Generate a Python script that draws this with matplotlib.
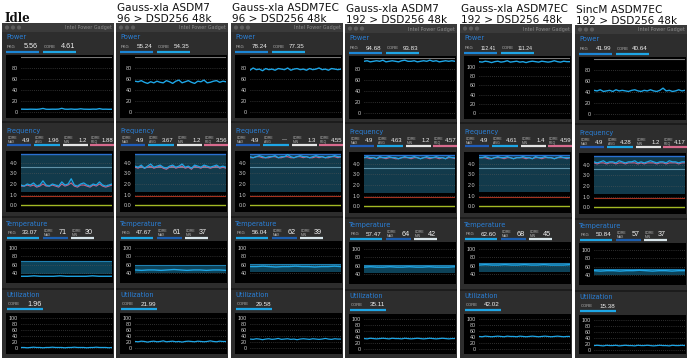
import matplotlib
matplotlib.use("Agg")
import matplotlib.pyplot as plt
from matplotlib.patches import Rectangle, Circle

W, H = 690, 358

# titles of the six screenshots
titles = ["Idle",
          "Gauss-xla ASDM7\n96 > DSD256 48k",
          "Gauss-xla ASDM7EC\n96 > DSD256 48k",
          "Gauss-xla ASDM7\n192 > DSD256 48k",
          "Gauss-xla ASDM7EC\n192 > DSD256 48k",
          "SincM ASDM7EC\n192 > DSD256 48k"]

# header readouts
pkg_power = ["5.56", "55.24", "78.24", "94.68", "112.41", "41.99"]
core_power = ["4.61", "54.35", "77.35", "93.83", "111.24", "40.64"]
freq_max = ["4.9", "4.9", "4.9", "4.9", "4.9", "4.9"]
freq_avg = ["1.96", "3.67", "---", "4.63", "4.61", "4.28"]
freq_min = ["1.2", "1.2", "1.3", "1.2", "1.4", "1.2"]
freq_req = ["1.88", "3.56", "4.55", "4.57", "4.59", "4.17"]
temp_pkg = ["33.07", "47.67", "56.04", "57.47", "62.60", "50.84"]
temp_max = ["71", "61", "62", "64", "68", "57"]
temp_min = ["30", "37", "39", "42", "45", "37"]
util_core = ["1.96", "21.99", "29.58", "35.11", "42.02", "15.38"]

# power traces (W)
power_idle = [5.2, 5.0, 4.9, 5.1, 5.0, 4.8, 5.3, 6.4, 5.0, 4.9, 5.1, 5.0, 5.2, 6.6, 5.1,
              5.0, 5.4, 4.9, 5.0, 5.8, 5.1, 5.0, 4.9, 5.2, 5.0, 6.1, 5.0, 5.1, 4.9, 5.0]
power_g7_96 = [56, 55, 57, 54, 52, 55, 53, 56, 54, 53, 57, 55, 52, 56, 58,
               53, 55, 57, 54, 52, 56, 55, 58, 53, 54, 56, 57, 54, 56, 55]
power_g7ec_96 = [76, 80, 77, 78, 75, 79, 77, 78, 76, 79, 78, 77, 80, 76, 78,
                 79, 77, 78, 76, 79, 77, 78, 80, 77, 78, 76, 79, 78, 77, 78]
power_g7_192 = [94, 95, 93, 94, 95, 94, 96, 93, 94, 95, 94, 93, 95, 96, 94,
                94, 95, 93, 94, 95, 94, 96, 94, 95, 93, 94, 95, 94, 95, 94]
power_g7ec_192 = [112, 111, 113, 112, 110, 112, 113, 111, 112, 114, 111, 112, 113, 111, 112,
                  110, 112, 113, 112, 111, 113, 112, 111, 112, 114, 112, 111, 113, 112, 112]
power_sinc = [43, 42, 44, 41, 42, 43, 41, 44, 42, 43, 42, 41, 43, 44, 42,
              41, 43, 42, 44, 42, 41, 43, 47, 42, 43, 41, 42, 44, 42, 43]
power_top = [100, 100, 100, 100, 120, 100]

# core average / requested frequency (GHz)
fa_idle = [1.9, 1.8, 2.0, 1.9, 2.1, 1.8, 1.9, 2.3, 1.9, 1.8, 2.0, 1.9, 1.8, 2.2, 1.9,
           2.0, 2.5, 1.9, 1.8, 2.0, 2.1, 1.9, 1.8, 2.0, 1.9, 2.2, 1.9, 1.8, 1.9, 2.0]
fr_idle = [1.8, 1.8, 1.9, 1.8, 1.9, 1.7, 1.8, 2.0, 1.8, 1.8, 1.9, 1.8, 1.7, 2.0, 1.8,
           1.9, 2.1, 1.8, 1.7, 1.9, 1.9, 1.8, 1.7, 1.9, 1.8, 2.0, 1.8, 1.7, 1.8, 1.9]
fa_g7_96 = [3.7, 3.6, 3.8, 3.5, 3.7, 3.9, 3.6, 3.7, 3.8, 3.6, 3.5, 3.7, 3.8, 3.6, 3.7,
            3.9, 3.6, 3.7, 3.5, 3.8, 3.7, 3.6, 3.8, 3.7, 3.6, 3.7, 3.8, 3.6, 3.7, 3.6]
fr_g7_96 = [3.6, 3.5, 3.7, 3.5, 3.6, 3.7, 3.5, 3.6, 3.7, 3.5, 3.4, 3.6, 3.7, 3.5, 3.6,
            3.7, 3.5, 3.6, 3.4, 3.7, 3.6, 3.5, 3.7, 3.6, 3.5, 3.6, 3.7, 3.5, 3.6, 3.5]
fa_g7ec_96 = [4.6, 4.5, 4.6, 4.7, 4.6, 4.5, 4.6, 4.6, 4.7, 4.5, 4.6, 4.6, 4.8, 4.6, 4.5,
              4.6, 4.7, 4.6, 4.6, 4.5, 4.6, 4.7, 4.6, 4.6, 4.5, 4.6, 4.6, 4.7, 4.6, 4.6]
fr_g7ec_96 = [4.5, 4.5, 4.6, 4.6, 4.5, 4.5, 4.5, 4.6, 4.6, 4.5, 4.5, 4.6, 4.6, 4.5, 4.5,
              4.6, 4.6, 4.5, 4.6, 4.5, 4.5, 4.6, 4.5, 4.6, 4.5, 4.5, 4.6, 4.6, 4.5, 4.6]
fa_g7_192 = [4.6, 4.7, 4.6, 4.6, 4.5, 4.7, 4.6, 4.6, 4.7, 4.6, 4.6, 4.5, 4.6, 4.7, 4.6,
             4.6, 4.7, 4.6, 4.5, 4.6, 4.7, 4.6, 4.6, 4.7, 4.6, 4.6, 4.5, 4.7, 4.6, 4.6]
fr_g7_192 = [4.6, 4.6, 4.5, 4.6, 4.5, 4.6, 4.6, 4.5, 4.6, 4.6, 4.5, 4.5, 4.6, 4.6, 4.6,
             4.5, 4.6, 4.6, 4.5, 4.6, 4.6, 4.5, 4.6, 4.6, 4.5, 4.6, 4.5, 4.6, 4.6, 4.5]
fa_g7ec_192 = [4.6, 4.6, 4.7, 4.6, 4.5, 4.6, 4.7, 4.6, 4.6, 4.7, 4.6, 4.5, 4.6, 4.6, 4.7,
               4.6, 4.6, 4.5, 4.7, 4.6, 4.6, 4.7, 4.6, 4.6, 4.5, 4.6, 4.7, 4.6, 4.6, 4.6]
fr_g7ec_192 = [4.6, 4.6, 4.6, 4.5, 4.5, 4.6, 4.6, 4.6, 4.5, 4.6, 4.6, 4.5, 4.6, 4.6, 4.6,
               4.5, 4.6, 4.5, 4.6, 4.6, 4.5, 4.6, 4.6, 4.6, 4.5, 4.6, 4.6, 4.6, 4.5, 4.6]
fa_sinc = [4.3, 4.2, 4.3, 4.4, 4.2, 4.3, 4.3, 4.2, 4.4, 4.3, 4.2, 4.3, 4.3, 4.4, 4.2,
           4.3, 4.2, 4.3, 4.4, 4.3, 4.2, 4.3, 4.3, 4.2, 4.4, 4.3, 4.3, 4.2, 4.3, 4.3]
fr_sinc = [4.2, 4.1, 4.2, 4.2, 4.1, 4.2, 4.2, 4.1, 4.2, 4.2, 4.1, 4.2, 4.2, 4.2, 4.1,
           4.2, 4.1, 4.2, 4.2, 4.2, 4.1, 4.2, 4.2, 4.1, 4.2, 4.2, 4.2, 4.1, 4.2, 4.2]
band_low = [1.2, 1.2, 1.2, 1.2, 1.3, 1.2]

# package temperature (C) and core min/max band
t_idle = [33, 33, 34, 33, 33, 33, 34, 33, 33, 33, 33, 34, 33, 33, 33]
t_g7_96 = [48, 47, 48, 48, 47, 48, 49, 48, 47, 48, 48, 47, 48, 48, 47]
t_g7ec_96 = [56, 56, 57, 56, 55, 56, 56, 57, 56, 56, 55, 56, 56, 57, 56]
t_g7_192 = [57, 58, 57, 57, 58, 57, 57, 58, 57, 57, 58, 57, 57, 57, 58]
t_g7ec_192 = [62, 63, 62, 62, 63, 62, 62, 63, 62, 62, 63, 62, 62, 62, 63]
t_sinc = [51, 50, 51, 51, 50, 51, 51, 52, 51, 50, 51, 51, 50, 51, 51]
t_band_low = [38, 40, 42, 44, 46, 40]
t_band_high = [70, 60, 62, 63, 67, 56]

# core utilisation (%)
u_idle = [2, 2, 1, 2, 3, 2, 2, 1, 2, 2, 3, 2, 2, 2, 1, 2, 2, 3, 2, 2, 2, 1, 2, 2, 3, 2, 2, 2, 1, 2]
u_g7_96 = [22, 21, 23, 22, 20, 22, 23, 21, 22, 24, 21, 22, 23, 21, 22,
           20, 22, 23, 22, 21, 23, 22, 21, 22, 24, 22, 21, 23, 22, 22]
u_g7ec_96 = [30, 29, 31, 30, 28, 30, 31, 29, 30, 32, 29, 30, 31, 29, 30,
             28, 30, 31, 30, 29, 31, 30, 29, 30, 32, 30, 29, 31, 30, 30]
u_g7_192 = [35, 34, 36, 35, 34, 35, 36, 35, 34, 36, 35, 35, 34, 36, 35,
            34, 35, 36, 35, 34, 35, 36, 35, 34, 35, 36, 35, 34, 35, 35]
u_g7ec_192 = [42, 41, 43, 42, 41, 42, 43, 42, 41, 43, 42, 42, 41, 43, 42,
              41, 42, 43, 42, 41, 42, 43, 42, 41, 42, 43, 42, 41, 42, 42]
u_sinc = [15, 16, 15, 14, 16, 15, 15, 16, 14, 15, 16, 15, 15, 14, 16,
          15, 15, 16, 15, 14, 15, 16, 15, 15, 14, 16, 15, 15, 16, 15]

power = [power_idle, power_g7_96, power_g7ec_96, power_g7_192, power_g7ec_192, power_sinc]
freq_avg_series = [fa_idle, fa_g7_96, fa_g7ec_96, fa_g7_192, fa_g7ec_192, fa_sinc]
freq_req_series = [fr_idle, fr_g7_96, fr_g7ec_96, fr_g7_192, fr_g7ec_192, fr_sinc]
temps = [t_idle, t_g7_96, t_g7ec_96, t_g7_192, t_g7ec_192, t_sinc]
utils = [u_idle, u_g7_96, u_g7ec_96, u_g7_192, u_g7ec_192, u_sinc]

col_x = [2, 116, 231, 345, 460, 575]
col_dy = [0, 0, 0, 1, 1, 2]
col_w = 112

PANEL = "#2d2d2d"
BAR = "#3a3a3a"
BLUE_LBL = "#2a80d8"
CYAN = "#1ea6e6"
TXT = "#f0f0f0"
SMALL = "#b8b8b8"
NUM_FONT = ["Liberation Sans", "DejaVu Sans"]

fig = plt.figure(figsize=(W / 100, H / 100), dpi=100, facecolor="white")
bg = fig.add_axes([0, 0, 1, 1])
bg.set_xlim(0, W)
bg.set_ylim(H, 0)
bg.axis("off")


def box(x, y, w, h, color):
    bg.add_patch(Rectangle((x, y), w, h, color=color, lw=0))


def data_axes(x, y, w, h):
    ax = fig.add_axes([x / W, 1 - (y + h) / H, w / W, h / H])
    ax.set_facecolor("none")
    for s in ax.spines.values():
        s.set_visible(False)
    ax.tick_params(length=0, labelsize=3.9, labelcolor="#d0d0d0", pad=2.5)
    for lab in ax.get_yticklabels():
        lab.set_family(NUM_FONT)
    ax.set_xticks([])
    ax.grid(axis="y", linestyle=(0, (1, 2)), color="#5a5a5a", lw=0.5)
    return ax


def stat(x, y, label, value, x_end, color, two_line=False, base=5.2):
    if two_line:
        bg.text(x + 1, y, label, fontsize=2.4, color=SMALL, va="center",
                ha="left", linespacing=0.85, family=NUM_FONT)
    else:
        bg.text(x + 1, y, label, fontsize=3.0, color=SMALL, va="center", ha="left",
                family=NUM_FONT)
    fs = min(base, base * 4.3 / len(value))
    bg.text(x_end - 1, y, value, fontsize=fs, color=TXT, va="center", ha="right",
            family=NUM_FONT)
    bg.plot([x, x_end], [y + 4.5, y + 4.5], color=color, lw=1.6, solid_capstyle="butt")


for i in range(6):
    x0 = col_x[i]
    dy = col_dy[i]
    # title above the screenshot
    if i == 0:
        bg.text(x0 + 2, 18, titles[i], fontsize=8.5, family="DejaVu Serif",
                weight="bold", va="center", ha="left", color="#111")
    else:
        bg.text(x0 + 1, 13.5 + dy, titles[i], fontsize=7.6, va="center", ha="left",
                color="#111", linespacing=1.15)

    # window
    box(x0, 23 + dy, col_w, H - 23 - dy, PANEL)
    box(x0, 23 + dy, col_w, 9, BAR)
    for k in range(3):
        bg.add_patch(Circle((x0 + 5 + 6 * k, 27.5 + dy), 2.1, color="#5c5c5c", lw=0))
    bg.text(x0 + col_w - 2, 28 + dy, "Intel Power Gadget", fontsize=3.5,
            color="#8a8a8a", ha="right", va="center")
    for sep in (121, 216, 288):
        box(x0, sep + dy, col_w, 2, "#1c1c1c")

    # ---- power
    bg.text(x0 + 4, 37 + dy, "Power", fontsize=4.8, color=BLUE_LBL, va="center")
    stat(x0 + 4, 47 + dy, "PKG", pkg_power[i], x0 + 37, "#1c86d6")
    stat(x0 + 41, 47 + dy, "CORE", core_power[i], x0 + 74, CYAN)
    box(x0 + 4, 55 + dy, col_w - 5, 63, "#000")
    top = power_top[i]
    pax = data_axes(x0 + 19, 57 + dy, col_w - 21, 59)
    pax.set_ylim(-0.073 * top, top)
    pax.set_yticks(range(0, top, 20))
    pax.set_xlim(0, len(power[i]) - 1)
    pax.axhline(top, color="#777", lw=0.8)
    pax.plot(power[i], color=CYAN, lw=1.0)

    # ---- frequency
    bg.text(x0 + 4, 131 + dy, "Frequency", fontsize=4.8, color=BLUE_LBL, va="center")
    stat(x0 + 5, 140 + dy, "CORE\nMAX", freq_max[i], x0 + 29, "#1f5cb8", True, 4.3)
    stat(x0 + 32, 140 + dy, "CORE\nAVG", freq_avg[i], x0 + 58, CYAN, True, 4.3)
    stat(x0 + 61, 140 + dy, "CORE\nMIN", freq_min[i], x0 + 86, "#e4e4e4", True, 4.3)
    stat(x0 + 88, 140 + dy, "CORE\nREQ", freq_req[i], x0 + col_w, "#d86b8e", True, 4.3)
    box(x0 + 4, 151 + dy, col_w - 5, 61, "#000")
    fax = data_axes(x0 + 19, 153 + dy, col_w - 21, 58)
    fax.set_ylim(-0.57, 4.95)
    fax.set_yticks([0, 1, 2, 3, 4])
    fax.set_yticklabels(["0.0", "1.0", "2.0", "3.0", "4.0"], family=NUM_FONT)
    n = len(freq_avg_series[i])
    fax.set_xlim(0, n - 1)
    fax.axhspan(band_low[i], 4.9, color="#123a4b", lw=0)
    fax.axhline(4.9, color="#2a70d0", lw=1.0)
    fax.axhline(3.6, color="#5f92a8", lw=0.8)
    fax.axhline(0.85, color="#a3321f", lw=0.8)
    fax.axhline(0.0, color="#a2b824", lw=1.0)
    fax.plot(freq_req_series[i], color="#c8628a", lw=0.8)
    fax.plot(freq_avg_series[i], color=CYAN, lw=0.9)

    # ---- temperature
    bg.text(x0 + 4, 224 + dy, "Temperature", fontsize=4.8, color=BLUE_LBL, va="center")
    stat(x0 + 5, 233 + dy, "PKG", temp_pkg[i], x0 + 37, CYAN)
    stat(x0 + 41, 233 + dy, "CORE\nMAX", temp_max[i], x0 + 66, "#1c5fb0", True)
    stat(x0 + 69, 233 + dy, "CORE\nMIN", temp_min[i], x0 + 92, "#d8e6ec", True)
    box(x0 + 4, 241 + dy, col_w - 5, 42, "#000")
    tax = data_axes(x0 + 19, 243 + dy, col_w - 21, 40)
    tax.set_ylim(17, 112)
    tax.set_yticks([40, 60, 80, 100])
    tax.set_xlim(0, len(temps[i]) - 1)
    tax.axhspan(t_band_low[i], t_band_high[i], color="#0d4258", lw=0)
    tax.axhline(t_band_high[i], color="#1f7fb0", lw=0.8)
    tax.plot(temps[i], color=CYAN, lw=1.0)

    # ---- utilization
    bg.text(x0 + 4, 295 + dy, "Utilization", fontsize=4.8, color=BLUE_LBL, va="center")
    stat(x0 + 5, 304 + dy, "CORE", util_core[i], x0 + 41, CYAN)
    box(x0 + 4, 313 + dy, col_w - 5, H - 313 - dy - 4, "#000")
    uax = data_axes(x0 + 19, 315 + dy, col_w - 21, 37)
    uax.set_ylim(-13, 110)
    uax.set_yticks([0, 20, 40, 60, 80, 100])
    uax.set_xlim(0, len(utils[i]) - 1)
    uax.plot(utils[i], color=CYAN, lw=0.9)

fig.savefig("out.png", dpi=100, facecolor="white")
